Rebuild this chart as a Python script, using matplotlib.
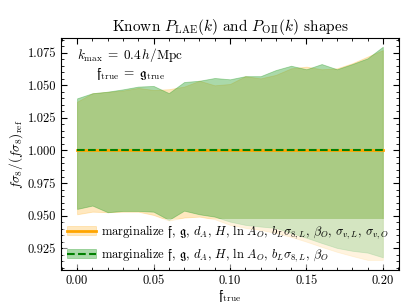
import numpy as np
import matplotlib
matplotlib.use("Agg")
import matplotlib.pyplot as plt
from matplotlib.ticker import MultipleLocator, FormatStrFormatter

plt.rcParams['font.family'] = 'serif'
plt.rcParams['font.serif'] = ['cmr10']
plt.rcParams['mathtext.fontset'] = 'cm'
plt.rcParams['axes.formatter.use_mathtext'] = True
plt.rcParams['axes.unicode_minus'] = False

# f_true grid
f_true = np.round(np.arange(0, 0.201, 0.01), 2)

# marginalize all (incl. sigma_v) -- orange
orange_mid = np.ones(21)
orange_up = np.array([1.0374, 1.0439, 1.0450, 1.0460, 1.0480, 1.0464, 1.0470, 1.0490, 1.0535, 1.0500,
                      1.0510, 1.0570, 1.0553, 1.0580, 1.0630, 1.0643, 1.0623, 1.0630, 1.0669, 1.0720, 1.0770])
orange_lo = np.array([0.9510, 0.9530, 0.9526, 0.9530, 0.9530, 0.9505, 0.9462, 0.9485, 0.9492, 0.9472,
                      0.9429, 0.9406, 0.9390, 0.9367, 0.9337, 0.9300, 0.9260, 0.9222, 0.9190, 0.9160, 0.9160])

# sigma_v fixed -- green
green_mid = np.ones(21)
green_up = np.array([1.0400, 1.0439, 1.0451, 1.0469, 1.0490, 1.0495, 1.0440, 1.0525, 1.0535, 1.0556,
                     1.0546, 1.0570, 1.0570, 1.0617, 1.0650, 1.0623, 1.0663, 1.0623, 1.0663, 1.0707, 1.0796])
green_lo = np.array([0.9551, 0.9577, 0.9526, 0.9536, 0.9536, 0.9530, 0.9467, 0.9538, 0.9510, 0.9492,
                     0.9454, 0.9429, 0.9416, 0.9406, 0.9367, 0.9330, 0.9290, 0.9252, 0.9230, 0.9216, 0.9180])

lab1 = (r"marginalize $\mathfrak{f}$, $\mathfrak{g}$, $d_A$, $H$, $\ln\,A_O$, "
        r"$b_L\sigma_{8,L}$, $\beta_O$, $\sigma_{v,L}$, $\sigma_{v,O}$")
lab2 = (r"marginalize $\mathfrak{f}$, $\mathfrak{g}$, $d_A$, $H$, $\ln\,A_O$, "
        r"$b_L\sigma_{8,L}$, $\beta_O$")

fig = plt.figure(figsize=(4.07, 3.05), dpi=100)
ax = fig.add_axes([0.150, 0.115, 0.830, 0.760])

p1 = ax.fill_between(f_true, orange_lo, orange_up, color='orange', alpha=0.25, lw=0.6)
l1, = ax.plot(f_true, orange_mid, color='orange', lw=2)
p2 = ax.fill_between(f_true, green_lo, green_up, color='tab:green', alpha=0.4, lw=0.6)
l2, = ax.plot(f_true, green_mid, color='green', ls='--', lw=1.5)

ax.set_xlim(-0.0105, 0.2105)
ax.set_ylim(0.9083, 1.0862)
ax.xaxis.set_major_locator(MultipleLocator(0.05))
ax.xaxis.set_minor_locator(MultipleLocator(0.01))
ax.yaxis.set_major_locator(MultipleLocator(0.025))
ax.yaxis.set_minor_locator(MultipleLocator(0.005))
ax.xaxis.set_major_formatter(FormatStrFormatter('%.2f'))
ax.yaxis.set_major_formatter(FormatStrFormatter('%.3f'))
ax.tick_params(which='both', direction='in', top=True, right=True, labelsize=9)
ax.tick_params(which='major', length=4)
ax.tick_params(which='minor', length=2)

ax.set_xlabel(r"$\mathfrak{f}_{\rm true}$", fontsize=9.5, labelpad=1)
ax.set_ylabel(r"$f\sigma_8/(f\sigma_8)_{\rm ref}$", fontsize=9.5, labelpad=2)
ax.set_title(r"Known $P_{\rm LAE}(k)$ and $P_{\rm OII}(k)$ shapes", fontsize=11, pad=5)

ax.text(0.205, 0.965, r"$k_{\rm max}\;=\;0.4\,h/{\rm Mpc}$" + "\n" +
        r"$\mathfrak{f}_{\rm true}\;=\;\mathfrak{g}_{\rm true}$",
        transform=ax.transAxes, ha='center', va='top', fontsize=9.5,
        multialignment='center', linespacing=1.2)

leg = ax.legend([(p1, l1), (p2, l2)], [lab1, lab2], loc='lower left', fontsize=9,
                bbox_to_anchor=(-0.005, -0.01), handlelength=2.3, handletextpad=0.4,
                borderpad=0.35, labelspacing=0.45, borderaxespad=0.3,
                framealpha=0.5, fancybox=False)
leg.get_frame().set_edgecolor('none')

fig.savefig("out.png", dpi=100)
